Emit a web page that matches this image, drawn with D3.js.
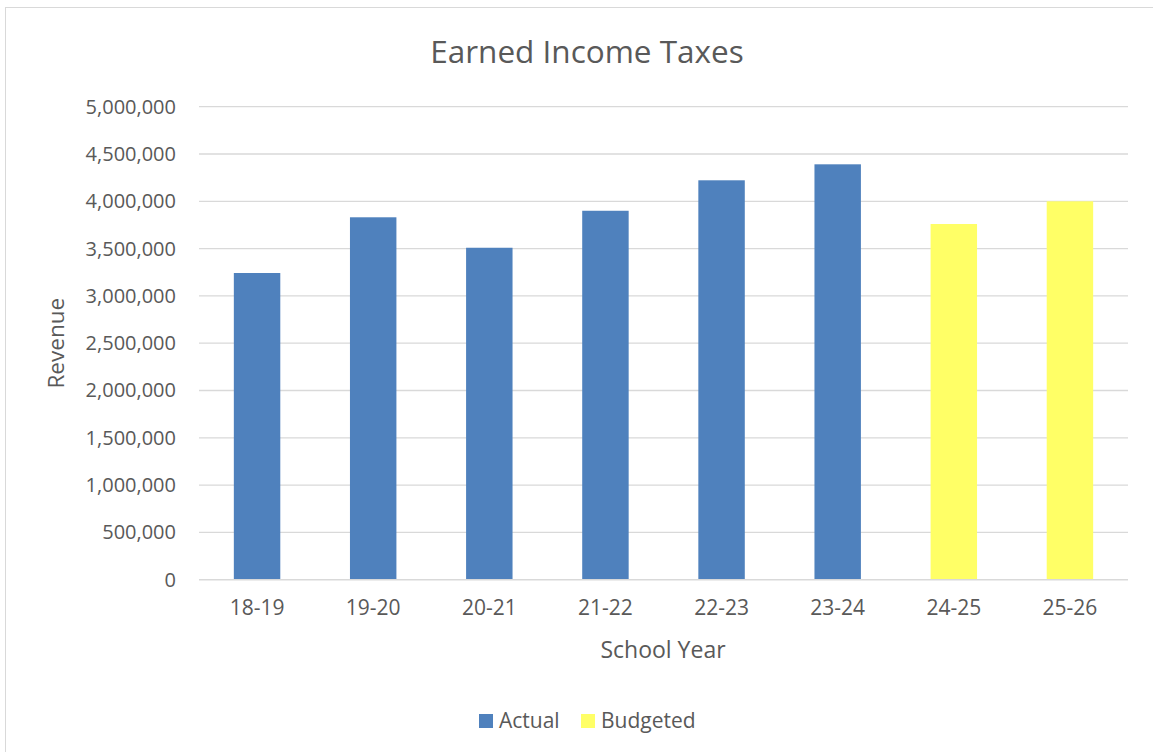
<!DOCTYPE html>
<html><head><meta charset="utf-8">
<script src="https://cdn.jsdelivr.net/npm/d3@7"></script>
<style>
html,body{margin:0;padding:0;background:#fff;}
svg text{font-family:"Open Sans","Noto Sans",sans-serif;fill:#595959;}
</style></head>
<body>
<svg id="chart" width="1153" height="752"></svg>
<script>
const categories = ["18-19","19-20","20-21","21-22","22-23","23-24","24-25","25-26"];
const values = [3242000,3831000,3509000,3900000,4222000,4391000,3760000,4000000];
const seriesOf = ["Actual","Actual","Actual","Actual","Actual","Actual","Budgeted","Budgeted"];
const seriesNames = ["Actual","Budgeted"];
const seriesColors = ["#4F81BD","#FFFF66"];
const yTicks = [0,500000,1000000,1500000,2000000,2500000,3000000,3500000,4000000,4500000,5000000];

const svg = d3.select("#chart");
svg.append("rect").attr("x",5.5).attr("y",7.5).attr("width",1200).attr("height",800)
  .attr("fill","#fff").attr("stroke","#d9d9d9").attr("stroke-width",1);

const pLeft=199, pRight=1128, pTop=106.7, pBottom=579.7;
const x = d3.scaleBand().domain(categories).range([pLeft,pRight]).paddingInner(0.6).paddingOuter(0.3);
const y = d3.scaleLinear().domain([0,5000000]).range([pBottom,pTop]);
const color = d3.scaleOrdinal().domain(seriesNames).range(seriesColors);

// gridlines
svg.append("g").selectAll("line").data(yTicks.filter(d=>d>0)).join("line")
  .attr("x1",pLeft).attr("x2",pRight).attr("y1",d=>y(d)).attr("y2",d=>y(d))
  .attr("stroke","#d9d9d9").attr("stroke-width",1.3);

// y axis labels
const yAxis = d3.axisLeft(y).tickValues(yTicks).tickSize(0).tickPadding(23).tickFormat(d3.format(","));
const gy = svg.append("g").attr("transform",`translate(${pLeft},0)`).call(yAxis);
gy.select(".domain").remove();
gy.selectAll("text").attr("font-size",20).attr("fill","#595959").attr("font-family","Open Sans, Noto Sans, sans-serif");

// bars
svg.append("g").selectAll("rect").data(categories).join("rect")
  .attr("x",d=>x(d)).attr("width",x.bandwidth())
  .attr("y",(d,i)=>y(values[i])).attr("height",(d,i)=>pBottom-y(values[i]))
  .attr("fill",(d,i)=>color(seriesOf[i]));

// x axis
const xAxis = d3.axisBottom(x).tickSize(0).tickPadding(20);
const gx = svg.append("g").attr("transform",`translate(0,${pBottom})`).call(xAxis);
gx.select(".domain").attr("stroke","#d9d9d9").attr("stroke-width",1.5).attr("d",`M${pLeft},0H${pRight}`);
gx.selectAll("text").attr("font-size",21).attr("fill","#595959").attr("font-family","Open Sans, Noto Sans, sans-serif");

// title
svg.append("text").attr("x",587).attr("y",63).attr("text-anchor","middle")
  .attr("font-size",31.5).text("Earned Income Taxes");
// axis titles
svg.append("text").attr("x",663).attr("y",658).attr("text-anchor","middle")
  .attr("font-size",23).text("School Year");
svg.append("text").attr("transform",`translate(64,${(pTop+pBottom)/2}) rotate(-90)`)
  .attr("text-anchor","middle").attr("font-size",22.5).text("Revenue");

// legend
const legendX = [479,581];
const lg = svg.append("g").selectAll("g").data(seriesNames).join("g")
  .attr("transform",(d,i)=>`translate(${legendX[i]},714)`);
lg.append("rect").attr("width",14).attr("height",14).attr("fill",d=>color(d));
lg.append("text").attr("x",20).attr("y",14).attr("font-size",21).text(d=>d);
</script>
</body></html>
